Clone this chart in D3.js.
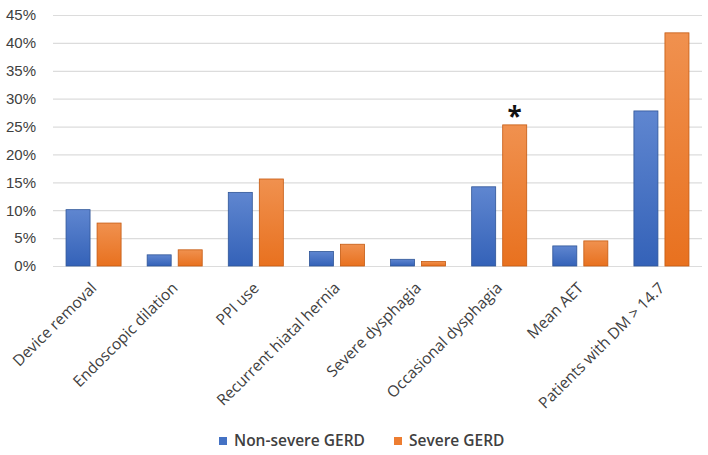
<!DOCTYPE html>
<html>
<head>
<meta charset="utf-8">
<script src="https://cdn.jsdelivr.net/npm/d3@7"></script>
<style>
  body { margin: 0; background: #fff; }
  svg { display: block; font-family: "Open Sans", sans-serif; }
</style>
</head>
<body>
<div id="container"></div>
<script>
// chart values
let categories = ["Device removal", "Endoscopic dilation", "PPI use", "Recurrent hiatal hernia",
                  "Severe dysphagia", "Occasional dysphagia", "Mean AET", "Patients with DM > 14.7"];
let seriesNames = ["Non-severe GERD", "Severe GERD"];
let nonSevere = [10.1, 2.0, 13.2, 2.6, 1.2, 14.2, 3.6, 27.8];
let severe = [7.7, 2.9, 15.6, 3.9, 0.8, 25.3, 4.5, 41.8];
let yTicks = [0, 5, 10, 15, 20, 25, 30, 35, 40, 45];
let starredCategory = "Occasional dysphagia";

let width = 708, height = 455;
let margin = {left: 53, right: 6, top: 15, bottom: 189};

let svg = d3.select('#container').append('svg')
    .attr('width', width)
    .attr('height', height);

let defs = svg.append('defs');
function gradient(id, top, bottom) {
    let g = defs.append('linearGradient').attr('id', id)
        .attr('x1', 0).attr('y1', 0).attr('x2', 0).attr('y2', 1);
    g.append('stop').attr('offset', '0%').attr('stop-color', top);
    g.append('stop').attr('offset', '100%').attr('stop-color', bottom);
}
gradient('gBlue', '#5f86d0', '#3462b8');
gradient('gOrange', '#f0914f', '#e8711f');
let fills = ['url(#gBlue)', 'url(#gOrange)'];
let strokes = ['#2f5597', '#c55a11'];
let legendColors = ['#4472c4', '#ed7d31'];

let x = d3.scaleBand()
    .domain(categories)
    .range([margin.left, width - margin.right]);

let y = d3.scaleLinear()
    .domain([0, 45])
    .range([height - margin.bottom, margin.top]);

// grid lines + tick labels
let yAxis = d3.axisLeft(y)
    .tickValues(yTicks)
    .tickSize(-(width - margin.left - margin.right))
    .tickPadding(17)
    .tickFormat(d => d + '%');

let gy = svg.append('g')
    .attr('transform', `translate(${margin.left},0)`)
    .call(yAxis);
gy.select('.domain').remove();
gy.selectAll('.tick line').attr('stroke', '#dcdcdc').attr('stroke-width', 1.2);
gy.selectAll('.tick text')
    .attr('fill', '#404040')
    .style('font-size', '15px');

// bars
let sub = d3.scaleBand()
    .domain([0, 1])
    .range([0, x.bandwidth()])
    .paddingInner(0.226)
    .paddingOuter(0.42);

let data = categories.map((c, i) => ({cat: c, vals: [nonSevere[i], severe[i]]}));

let groups = svg.selectAll('g.cat')
    .data(data)
    .enter().append('g')
    .attr('class', 'cat')
    .attr('transform', d => `translate(${x(d.cat)},0)`);

groups.selectAll('rect')
    .data(d => d.vals.map((v, k) => ({v: v, k: k})))
    .enter().append('rect')
    .attr('x', d => sub(d.k))
    .attr('width', sub.bandwidth())
    .attr('y', d => y(d.v))
    .attr('height', d => y(0) - y(d.v))
    .attr('fill', d => fills[d.k])
    .attr('stroke', d => strokes[d.k])
    .attr('stroke-width', 0.8);

// significance star
let starIdx = categories.indexOf(starredCategory);
svg.append('text')
    .attr('x', x(starredCategory) + sub(1) + sub.bandwidth() / 2)
    .attr('y', y(severe[starIdx]) + 1)
    .attr('text-anchor', 'middle')
    .style('font-size', '26px')
    .style('font-weight', 'bold')
    .attr('fill', '#111')
    .text('*');

// rotated category labels
svg.selectAll('text.cat')
    .data(categories)
    .enter().append('text')
    .attr('class', 'cat')
    .attr('text-anchor', 'end')
    .attr('fill', '#404040')
    .style('font-size', '15.5px')
    .attr('transform', d => `translate(${x(d) + x.bandwidth() / 2 + 4},${y(0) + 23}) rotate(-45)`)
    .text(d => d);

// legend
let legend = svg.append('g').attr('transform', 'translate(219,437)');
let lx = [0, 175];
seriesNames.forEach((s, i) => {
    let g = legend.append('g').attr('transform', `translate(${lx[i]},0)`);
    g.append('rect').attr('width', 8).attr('height', 8).attr('fill', legendColors[i]);
    g.append('text')
        .attr('x', 15).attr('y', 9)
        .attr('fill', '#404040')
        .style('font-size', '15.5px')
        .style('font-weight', '600')
        .text(s);
});
</script>
</body>
</html>
